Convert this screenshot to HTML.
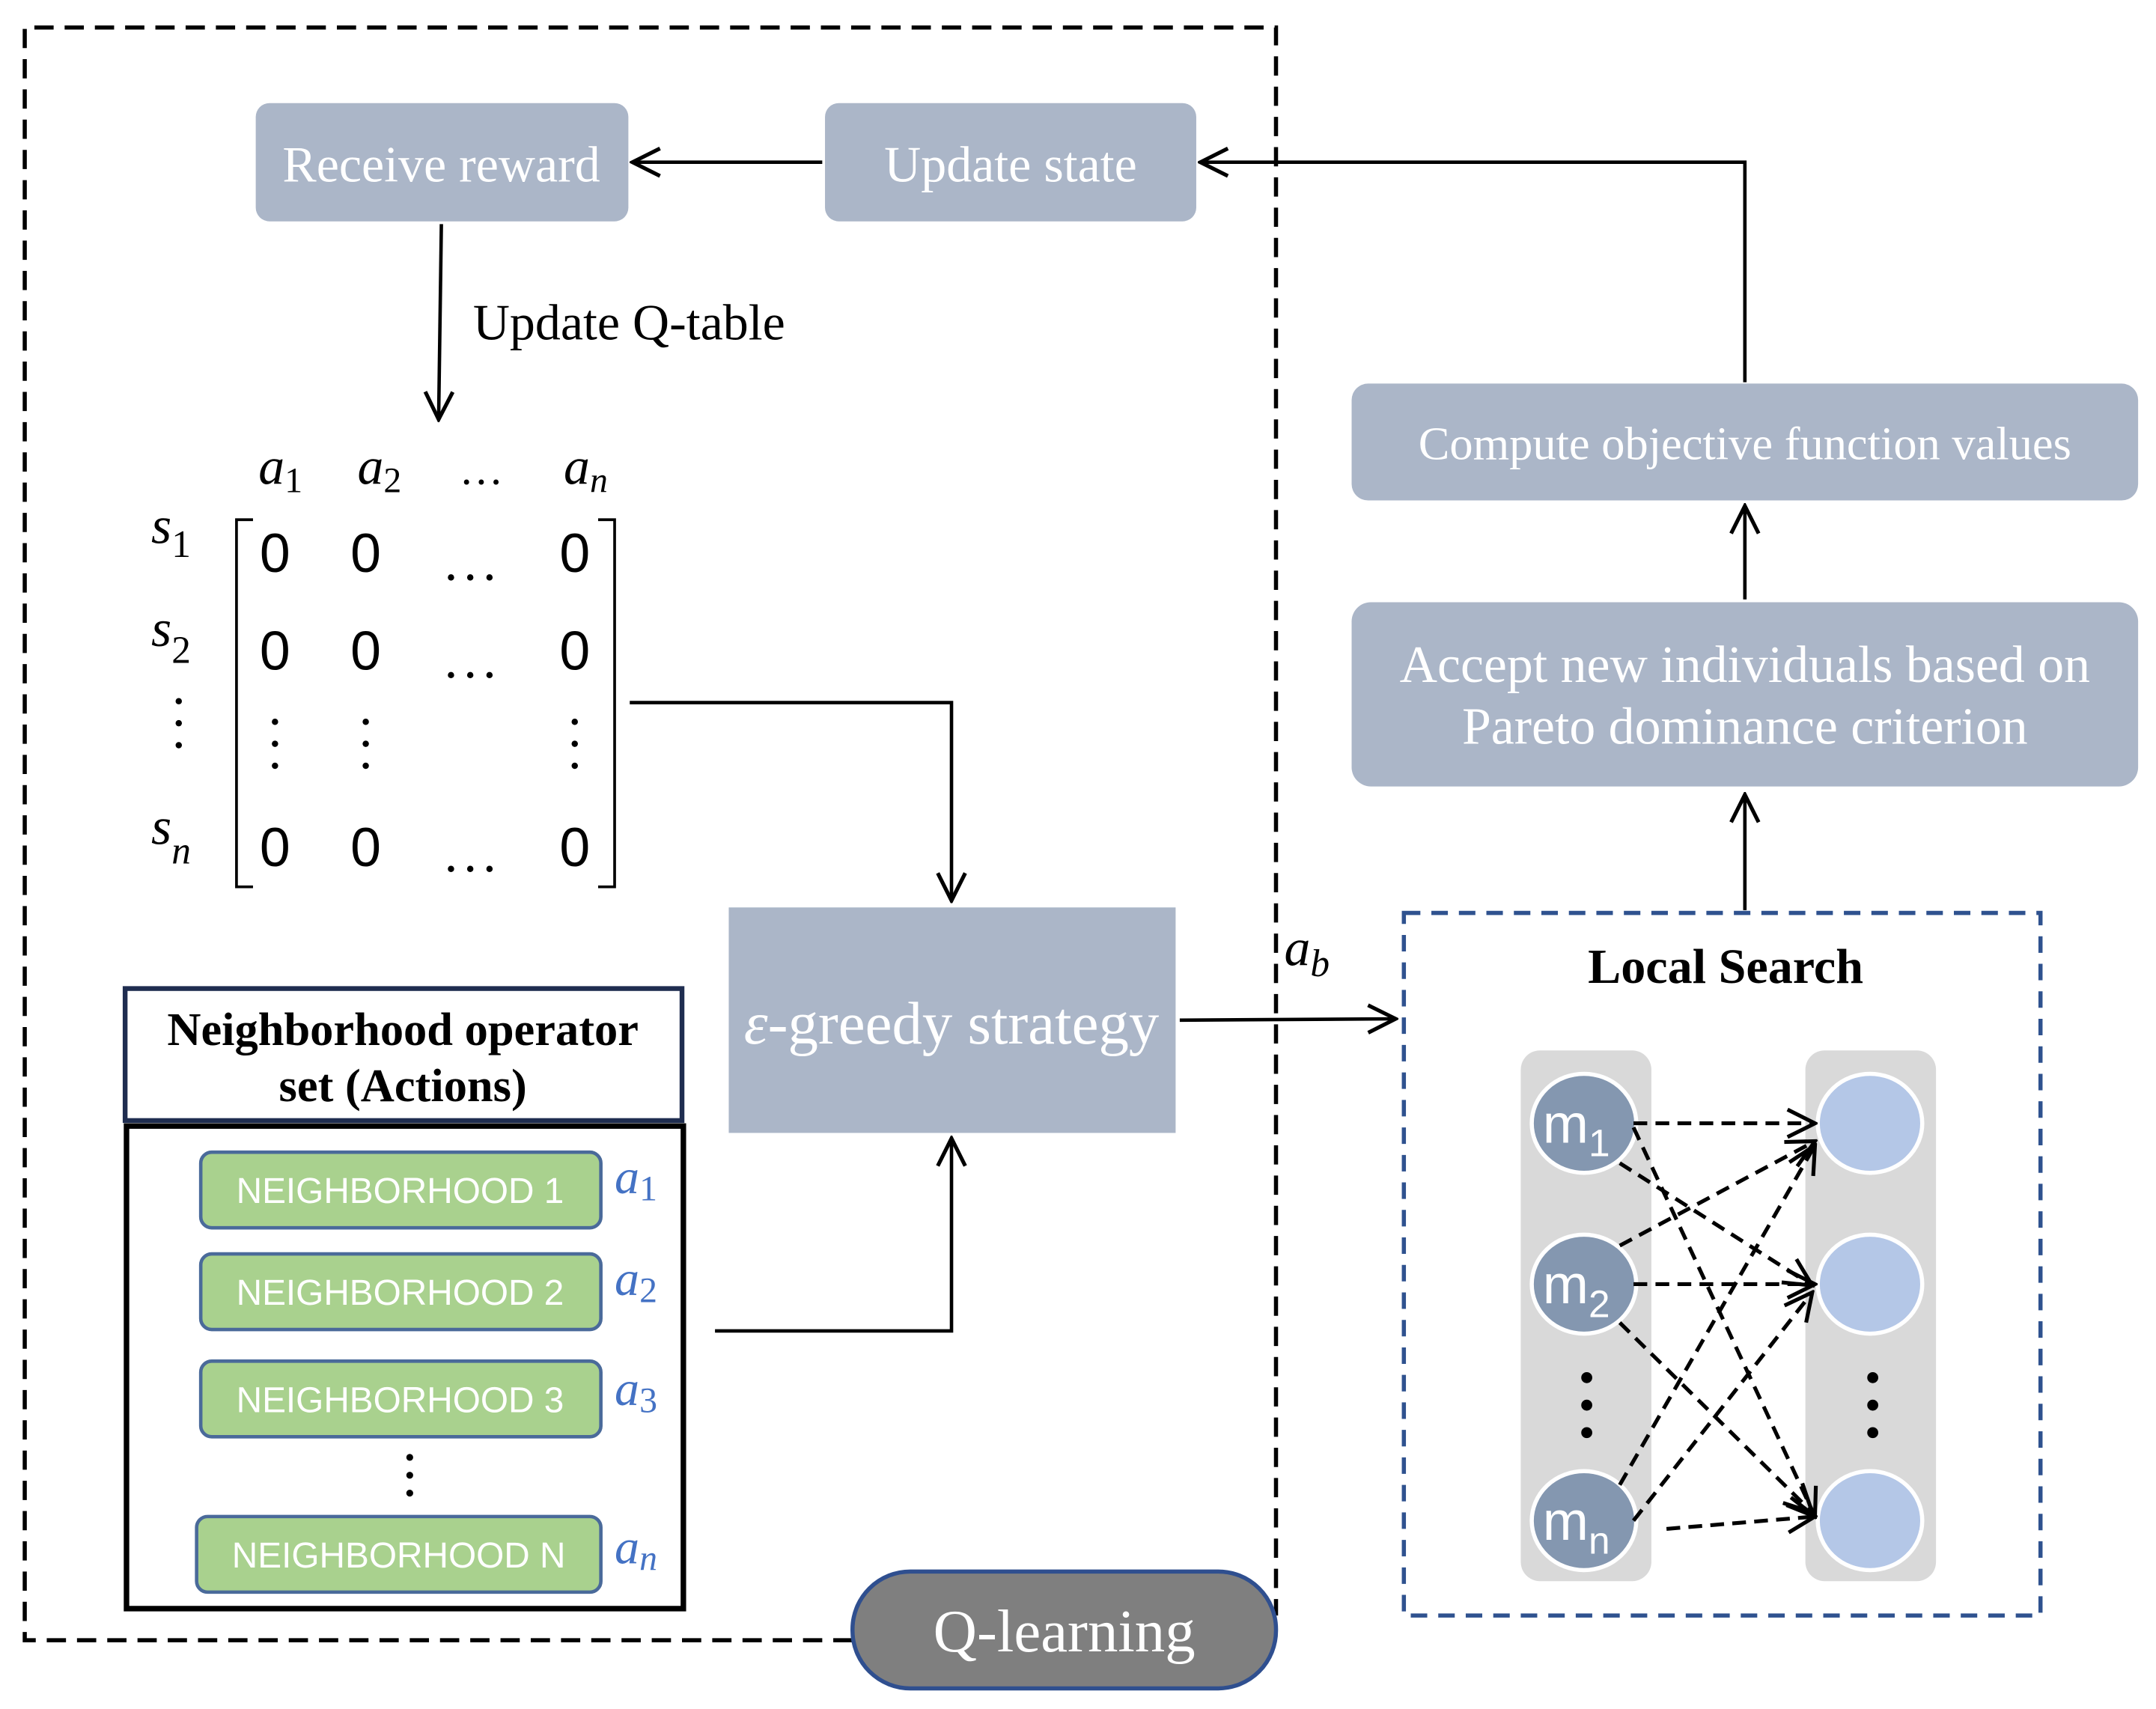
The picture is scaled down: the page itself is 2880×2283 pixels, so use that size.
<!DOCTYPE html>
<html><head><meta charset="utf-8"><style>html,body{margin:0;padding:0;background:#fff}svg{display:block}</style></head>
<body>
<svg width="2880" height="2283" viewBox="0 0 1568 1243" preserveAspectRatio="none" xmlns="http://www.w3.org/2000/svg">
<defs>
<marker id="ar" viewBox="0 0 24 24" refX="22" refY="12" markerWidth="24" markerHeight="24" markerUnits="userSpaceOnUse" orient="auto">
<path d="M2,2 L22,12 L2,22" fill="none" stroke="#000" stroke-width="2.8"/>
</marker>
</defs>
<g font-family="Liberation Serif, serif">
<path d="M620,1193 L18,1193 L18,20 L928,20 L928,1175" fill="none" stroke="#000" stroke-width="3" stroke-dasharray="14,8"/>
<rect x="186" y="75" width="271" height="86" rx="10" fill="#abb6c8"/>
<text x="321" y="132" text-anchor="middle" fill="#fff" font-size="37">Receive reward</text>
<rect x="600" y="75" width="270" height="86" rx="10" fill="#abb6c8"/>
<text x="735" y="132" text-anchor="middle" fill="#fff" font-size="37">Update state</text>
<g stroke="#000" stroke-width="2.5" fill="none" marker-end="url(#ar)">
<line x1="598" y1="118" x2="460" y2="118"/>
<polyline points="1269,278 1269,118 873,118"/>
<line x1="321" y1="163" x2="319" y2="305"/>
<polyline points="458,511 692,511 692,655"/>
<polyline points="520,968 692,968 692,828"/>
<line x1="858" y1="742" x2="1015" y2="741"/>
<line x1="1269" y1="436" x2="1269" y2="368"/>
<line x1="1269" y1="662" x2="1269" y2="578"/>
</g>
<text x="344" y="247" font-size="37">Update Q-table</text>
<g font-style="italic" font-size="38">
<text x="188" y="352">a<tspan font-size="26" dy="6" font-style="normal">1</tspan></text>
<text x="260" y="352">a<tspan font-size="26" dy="6" font-style="normal">2</tspan></text>
<text x="410" y="352">a<tspan font-size="26" dy="6">n</tspan></text>
<text x="110" y="395">s<tspan font-size="28" dy="10" font-style="normal">1</tspan></text>
<text x="110" y="470">s<tspan font-size="28" dy="12" font-style="normal">2</tspan></text>
<text x="110" y="614">s<tspan font-size="28" dy="14">n</tspan></text>
</g>
<text x="334" y="352" font-size="32">…</text>
<path d="M184,378 L172,378 L172,645 L184,645 M435,378 L447,378 L447,645 L435,645" fill="none" stroke="#000" stroke-width="2"/>
<g font-family="Liberation Sans, sans-serif" font-size="40" text-anchor="middle">
<text x="200" y="416">0</text><text x="266" y="416">0</text><text x="418" y="416">0</text>
<text x="200" y="487">0</text><text x="266" y="487">0</text><text x="418" y="487">0</text>
<text x="200" y="630">0</text><text x="266" y="630">0</text><text x="418" y="630">0</text>
</g>
<g fill="#000">
<circle cx="328" cy="420" r="2.3"/><circle cx="342" cy="420" r="2.3"/><circle cx="356" cy="420" r="2.3"/>
<circle cx="328" cy="491" r="2.3"/><circle cx="342" cy="491" r="2.3"/><circle cx="356" cy="491" r="2.3"/>
<circle cx="328" cy="632" r="2.3"/><circle cx="342" cy="632" r="2.3"/><circle cx="356" cy="632" r="2.3"/>
<circle cx="130" cy="510" r="2.3"/><circle cx="130" cy="526" r="2.3"/><circle cx="130" cy="542" r="2.3"/>
<circle cx="200" cy="525" r="2.3"/><circle cx="200" cy="541" r="2.3"/><circle cx="200" cy="557" r="2.3"/>
<circle cx="266" cy="525" r="2.3"/><circle cx="266" cy="541" r="2.3"/><circle cx="266" cy="557" r="2.3"/>
<circle cx="418" cy="525" r="2.3"/><circle cx="418" cy="541" r="2.3"/><circle cx="418" cy="557" r="2.3"/>
</g>
<rect x="530" y="660" width="325" height="164" fill="#abb6c8"/>
<text x="692" y="759" text-anchor="middle" fill="#fff" font-size="44"><tspan font-style="italic">ε</tspan>-greedy strategy</text>
<text x="934" y="702" font-size="38" font-style="italic">a<tspan font-size="28" dy="8">b</tspan></text>
<rect x="91" y="719" width="405" height="96" fill="none" stroke="#1f2d50" stroke-width="3.5"/>
<rect x="92" y="819" width="405" height="351" fill="none" stroke="#000" stroke-width="4"/>
<text x="293" y="760" text-anchor="middle" font-size="34" font-weight="bold">Neighborhood operator</text>
<text x="293" y="801" text-anchor="middle" font-size="34" font-weight="bold">set (Actions)</text>
<g fill="#a9d18e" stroke="#4a6a9a" stroke-width="2.5">
<rect x="146" y="838" width="291" height="55" rx="8"/>
<rect x="146" y="912" width="291" height="55" rx="8"/>
<rect x="146" y="990" width="291" height="55" rx="8"/>
<rect x="143" y="1103" width="294" height="55" rx="8"/>
</g>
<g font-family="Liberation Sans, sans-serif" font-size="26" fill="#fff" text-anchor="middle">
<text x="291" y="875">NEIGHBORHOOD 1</text>
<text x="291" y="949">NEIGHBORHOOD 2</text>
<text x="291" y="1027">NEIGHBORHOOD 3</text>
<text x="290" y="1140">NEIGHBORHOOD N</text>
</g>
<g fill="#4472c4" font-size="36" font-style="italic">
<text x="447" y="868">a<tspan font-size="26" font-style="normal" dy="5">1</tspan></text>
<text x="447" y="942">a<tspan font-size="26" font-style="normal" dy="5">2</tspan></text>
<text x="447" y="1022">a<tspan font-size="26" font-style="normal" dy="5">3</tspan></text>
<text x="447" y="1137">a<tspan font-size="26" dy="5">n</tspan></text>
</g>
<circle cx="298" cy="1060" r="2.5"/><circle cx="298" cy="1073" r="2.5"/><circle cx="298" cy="1086" r="2.5"/>
<rect x="620" y="1143" width="308" height="85" rx="42" fill="#7f7f7f" stroke="#2f4f8f" stroke-width="3"/>
<text x="774" y="1201" text-anchor="middle" fill="#fff" font-size="44">Q-learning</text>
<rect x="983" y="279" width="572" height="85" rx="12" fill="#abb6c8"/>
<text x="1269" y="334" text-anchor="middle" fill="#fff" font-size="34">Compute objective function values</text>
<rect x="983" y="438" width="572" height="134" rx="14" fill="#abb6c8"/>
<text x="1269" y="496" text-anchor="middle" fill="#fff" font-size="38">Accept new individuals based on</text>
<text x="1269" y="541" text-anchor="middle" fill="#fff" font-size="38">Pareto dominance criterion</text>
<rect x="1021" y="664" width="463" height="511" fill="none" stroke="#2f528f" stroke-width="3" stroke-dasharray="12,8"/>
<text x="1255" y="715" text-anchor="middle" font-size="36" font-weight="bold">Local Search</text>
<rect x="1106" y="764" width="95" height="386" rx="14" fill="#d9d9d9"/>
<rect x="1313" y="764" width="95" height="386" rx="14" fill="#d9d9d9"/>
<g fill="#8497b0" stroke="#fff" stroke-width="3">
<ellipse cx="1152" cy="817" rx="38" ry="36"/>
<ellipse cx="1152" cy="934" rx="38" ry="36"/>
<ellipse cx="1152" cy="1106" rx="38" ry="36"/>
</g>
<g fill="#b4c7e7" stroke="#fff" stroke-width="3">
<ellipse cx="1360" cy="817" rx="38" ry="36"/>
<ellipse cx="1360" cy="934" rx="38" ry="36"/>
<ellipse cx="1360" cy="1106" rx="38" ry="36"/>
</g>
<g font-family="Liberation Sans, sans-serif" fill="#fff" font-size="40">
<text x="1122" y="831">m<tspan font-size="28" dy="10">1</tspan></text>
<text x="1122" y="948">m<tspan font-size="28" dy="10">2</tspan></text>
<text x="1122" y="1120">m<tspan font-size="28" dy="10">n</tspan></text>
</g>
<g fill="#000">
<circle cx="1154" cy="1002" r="4"/><circle cx="1154" cy="1022" r="4"/><circle cx="1154" cy="1042" r="4"/>
<circle cx="1362" cy="1002" r="4"/><circle cx="1362" cy="1022" r="4"/><circle cx="1362" cy="1042" r="4"/>
</g>
<g stroke="#000" stroke-width="2.8" stroke-dasharray="10,6" fill="none" marker-end="url(#ar)">
<line x1="1188" y1="817" x2="1320" y2="817"/>
<line x1="1178" y1="846" x2="1318" y2="935"/>
<line x1="1188" y1="820" x2="1320" y2="1103"/>
<line x1="1178" y1="906" x2="1320" y2="830"/>
<line x1="1188" y1="934" x2="1320" y2="934"/>
<line x1="1178" y1="962" x2="1318" y2="1100"/>
<line x1="1178" y1="1080" x2="1320" y2="833"/>
<line x1="1188" y1="1106" x2="1318" y2="940"/>
<line x1="1212" y1="1112" x2="1320" y2="1103"/>
</g>
</g>
</svg>
</body></html>
